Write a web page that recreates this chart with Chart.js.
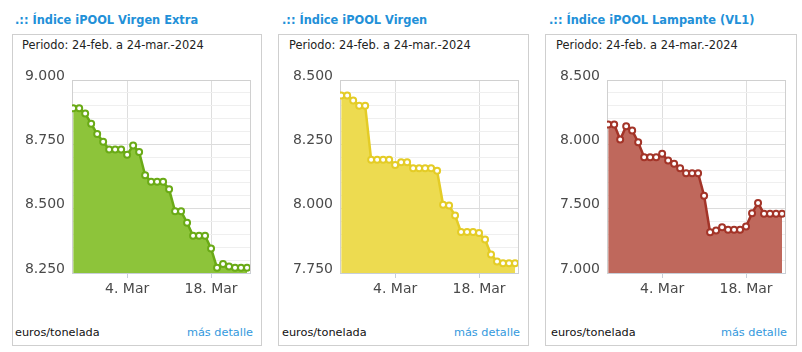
<!DOCTYPE html>
<html>
<head>
<meta charset="utf-8">
<script src="https://cdn.jsdelivr.net/npm/chart.js@4.4.1/dist/chart.umd.min.js"></script>
<style>
  html, body { margin:0; padding:0; background:#fff; }
  body { width:802px; height:352px; position:relative; overflow:hidden; font-family:"DejaVu Sans", Verdana, sans-serif; }
  .box { position:absolute; top:34px; height:310px; border:1px solid #cfcfcf; box-sizing:content-box; }
  .title { position:absolute; top:13px; font-weight:bold; font-size:11.4px; line-height:14px; color:#2290d8; white-space:nowrap; }
  .period { position:absolute; top:38px; font-size:11.4px; line-height:14px; color:#222; white-space:nowrap; }
  .unit { position:absolute; top:326px; font-size:11.3px; line-height:14px; color:#111; white-space:nowrap; }
  .more { position:absolute; top:326px; font-size:11.3px; line-height:14px; color:#3399dd; white-space:nowrap; text-align:right; }
  canvas { position:absolute; top:60px; }
</style>
</head>
<body>
<div class="box" style="left:12px;width:248px;"></div>
<div class="box" style="left:278px;width:249px;"></div>
<div class="box" style="left:545px;width:250px;"></div>

<div class="title" style="left:15px;">.:: Índice iPOOL Virgen Extra</div>
<div class="title" style="left:282px;">.:: Índice iPOOL Virgen</div>
<div class="title" style="left:549px;">.:: Índice iPOOL Lampante (VL1)</div>

<div class="period" style="left:22px;">Periodo: 24-feb. a 24-mar.-2024</div>
<div class="period" style="left:289px;">Periodo: 24-feb. a 24-mar.-2024</div>
<div class="period" style="left:556px;">Periodo: 24-feb. a 24-mar.-2024</div>

<div class="unit" style="left:15px;">euros/tonelada</div>
<div class="unit" style="left:282px;">euros/tonelada</div>
<div class="unit" style="left:551px;">euros/tonelada</div>

<div class="more" style="right:549px;">más detalle</div>
<div class="more" style="right:282px;">más detalle</div>
<div class="more" style="right:15px;">más detalle</div>

<canvas id="c1" width="248" height="245" style="left:12px;"></canvas>
<canvas id="c2" width="248" height="245" style="left:280px;"></canvas>
<canvas id="c3" width="248" height="245" style="left:547px;"></canvas>

<script>
// ---- data ----
const dates = ['24-feb','25-feb','26-feb','27-feb','28-feb','29-feb','1-mar','2-mar','3-mar','4-mar',
               '5-mar','6-mar','7-mar','8-mar','9-mar','10-mar','11-mar','12-mar','13-mar','14-mar',
               '15-mar','16-mar','17-mar','18-mar','19-mar','20-mar','21-mar','22-mar','23-mar','24-mar'];
const xTickIndex = [9, 23];
const xTickLabels = ['4. Mar', '18. Mar'];

const extraValues = [8890, 8890, 8870, 8830, 8790, 8760, 8730, 8730, 8730, 8710,
                     8745, 8720, 8630, 8605, 8605, 8605, 8575, 8490, 8490, 8445,
                     8395, 8395, 8395, 8345, 8270, 8285, 8275, 8270, 8270, 8270];
const virgenValues = [8440, 8440, 8420, 8400, 8400, 8190, 8190, 8190, 8190, 8170,
                      8180, 8180, 8157, 8157, 8157, 8157, 8147, 8015, 8012, 7973,
                      7909, 7909, 7909, 7905, 7880, 7822, 7795, 7788, 7788, 7788];
const lampanteValues = [8154, 8154, 8038, 8141, 8108, 8017, 7900, 7900, 7900, 7926,
                        7874, 7849, 7815, 7776, 7776, 7776, 7600, 7317, 7330, 7356,
                        7336, 7336, 7336, 7361, 7465, 7545, 7460, 7460, 7460, 7460];

const extraTicks = [8250, 8500, 8750, 9000];
const virgenTicks = [7750, 8000, 8250, 8500];
const lampanteTicks = [7000, 7500, 8000, 8500];

// ---- chart builder ----
const X_MIN = -0.2, X_MAX = 29.5;
function fmt(v) {
  const th = Math.floor(v / 1000);
  const r = String(Math.round(v % 1000)).padStart(3, '0');
  return th + '.' + r;
}
function makeChart(id, values, majorTicks, minorStep, lineColor, fillColor) {
  const yMin = majorTicks[0], yMax = majorTicks[majorTicks.length - 1];
  new Chart(document.getElementById(id), {
    type: 'line',
    data: {
      datasets: [{
        data: values.map((v, i) => ({ x: i, y: v })),
        borderColor: lineColor,
        backgroundColor: fillColor,
        borderWidth: 2.5,
        fill: 'start',
        tension: 0,
        pointRadius: 3,
        pointBorderWidth: 2,
        pointBackgroundColor: '#ffffff',
        pointBorderColor: lineColor
      }]
    },
    options: {
      responsive: false,
      devicePixelRatio: 1,
      animation: false,
      layout: { padding: { top: 20, right: 10, left: 0, bottom: 0 } },
      plugins: { legend: { display: false }, tooltip: { enabled: false } },
      scales: {
        x: {
          type: 'linear',
          min: X_MIN, max: X_MAX,
          afterBuildTicks: s => { s.ticks = [{ value: X_MIN }].concat(xTickIndex.map(v => ({ value: v }))).concat([{ value: X_MAX }]); },
          afterFit: s => { s.height = 32; },
          ticks: {
            autoSkip: false, maxRotation: 0, padding: 3,
            font: { family: 'DejaVu Sans', size: 14 }, color: '#4a4a4a',
            callback: v => { const k = xTickIndex.indexOf(v); return k >= 0 ? xTickLabels[k] : ''; }
          },
          grid: {
            color: c => (c.tick && xTickIndex.includes(c.tick.value)) ? '#dedede' : '#d0d0d0',
            tickColor: c => (c.tick && xTickIndex.includes(c.tick.value)) ? '#c8cfd8' : 'rgba(0,0,0,0)',
            tickLength: 5, lineWidth: 1
          },
          border: { display: true, color: '#c8cfd8', width: 1 }
        },
        y: {
          type: 'linear',
          min: yMin, max: yMax,
          afterFit: s => { s.width = 60; },
          ticks: {
            stepSize: minorStep, autoSkip: false, padding: 7, labelOffset: -4,
            font: { family: 'DejaVu Sans', size: 14 }, color: '#4a4a4a',
            callback: v => majorTicks.includes(v) ? fmt(v) : ''
          },
          grid: {
            drawTicks: false,
            color: c => {
              if (!c.tick) return '#eee';
              if (c.tick.value === yMax) return '#d0d0d0';
              return majorTicks.includes(c.tick.value) ? '#dcdcdc' : '#efefef';
            },
            lineWidth: 1
          },
          border: { display: true, color: '#d0d0d0', width: 1 }
        }
      }
    }
  });
}

makeChart('c1', extraValues, extraTicks, 50, 'rgb(106,170,22)', 'rgb(141,196,58)');
makeChart('c2', virgenValues, virgenTicks, 50, 'rgb(228,204,38)', 'rgb(237,219,80)');
makeChart('c3', lampanteValues, lampanteTicks, 100, 'rgb(163,52,40)', 'rgb(191,104,92)');
</script>
</body>
</html>
